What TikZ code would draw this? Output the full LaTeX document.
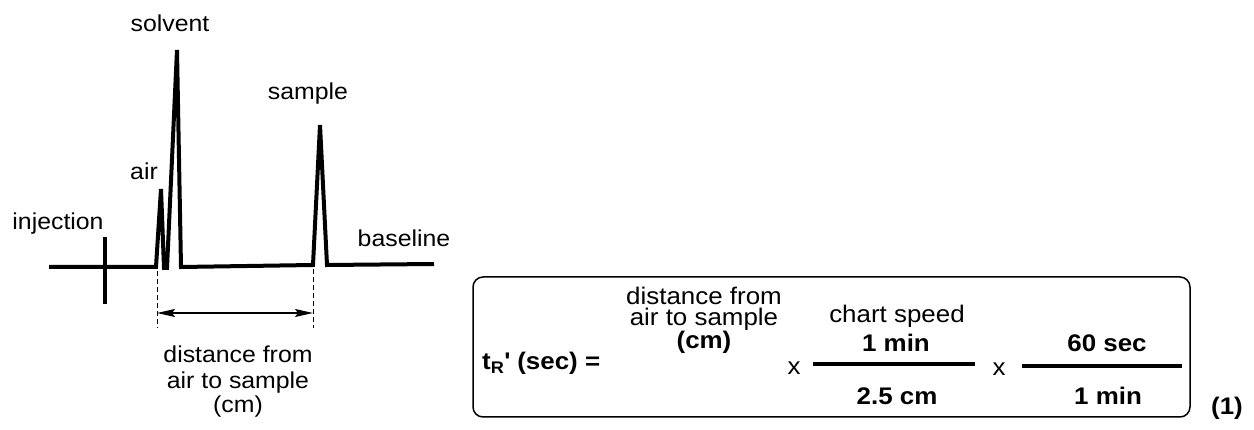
\documentclass[tikz,border=0pt]{standalone}
\usepackage{fontspec}
\setmainfont{Liberation Sans}[FakeStretch=1.08]
\usetikzlibrary{arrows.meta}
\begin{document}
\begin{tikzpicture}[x=1pt,y=-1pt,
  trace/.style={line width=4pt},
  guide/.style={line width=1pt, dash pattern=on 5pt off 3pt},
  dimarrow/.style={line width=1.3pt, {Stealth[length=18pt,width=8pt,inset=3pt]}-{Stealth[length=18pt,width=8pt,inset=3pt]}},
  lbl/.style={inner sep=0pt, anchor=base, align=center, font=\fontsize{23}{25}\selectfont},
  eq/.style={inner sep=0pt, anchor=base, align=center, font=\fontsize{24}{21.5}\selectfont},
  eqb/.style={eq, font=\fontsize{24}{21.5}\selectfont\bfseries},
  bar/.style={line width=3.5pt},
  eqbox/.style={draw, line width=1.5pt, rounded corners=10pt, minimum width=717pt, minimum height=140pt, inner sep=0pt}
]
\useasboundingbox (0,0) rectangle (1254,430);

% chromatogram trace
\coordinate (b0) at (49,267);
\coordinate (b1) at (156,267);
\coordinate (airtop) at (161,189);
\coordinate (a2) at (164,268);
\coordinate (a3) at (167,268);
\coordinate (soltop) at (177,50);
\coordinate (s2) at (181,267);
\coordinate (p1) at (313,265);
\coordinate (samptop) at (320,125);
\coordinate (p2) at (327,265);
\coordinate (bend) at (434,264);
\draw[trace] (b0) -- (b1) -- (airtop) -- (a2) -- (a3) -- (soltop) -- (s2) -- (p1) -- (samptop) -- (p2) -- (bend);

% injection mark
\coordinate (injT) at (105,237);
\coordinate (injB) at (105,304);
\draw[trace] (injT) -- (injB);

% guides and dimension arrow
\coordinate (g1t) at (157,271);
\coordinate (g1b) at (157,328);
\coordinate (g2t) at (313,269);
\coordinate (g2b) at (313,328);
\draw[guide] (g1t) -- (g1b);
\draw[guide] (g2t) -- (g2b);
\coordinate (arL) at (157,313);
\coordinate (arR) at (313,313);
\draw[dimarrow] (arL) -- (arR);

% labels
\node[lbl] (solvent) at (170,32) {solvent};
\node[lbl] (sample) at (308,100) {sample};
\node[lbl] (air) at (144,180) {air};
\node[lbl] (injection) at (58,230) {injection};
\node[lbl] (baseline) at (404,247) {baseline};
\node[lbl] (dist) at (238,413) {distance from\\air to sample\\(cm)};

% equation
\node[eqbox] (box) at (831.5,347) {};
\node[eqb, anchor=base west] (tr) at (482,370) {t\textsubscript{R}\textquotesingle{} (sec) =};
\node[eq] (edist) at (704,349) {distance from\\air to sample\\\textbf{(cm)}};
\node[eq] (x1) at (794,375) {x};
\node[eq] (chart) at (897,323) {chart speed};
\node[eqb] (num1) at (896,352) {1 min};
\coordinate (bar1L) at (813,364);
\coordinate (bar1R) at (975,364);
\draw[bar] (bar1L) -- (bar1R);
\node[eqb] (den1) at (897,405) {2.5 cm};
\node[eq] (x2) at (999,376) {x};
\node[eqb] (num2) at (1107,352) {60 sec};
\coordinate (bar2L) at (1022,366);
\coordinate (bar2R) at (1182,366);
\draw[bar] (bar2L) -- (bar2R);
\node[eqb] (den2) at (1108,405) {1 min};
\node[eqb] (eqno) at (1227,415) {(1)};
\end{tikzpicture}
\end{document}
